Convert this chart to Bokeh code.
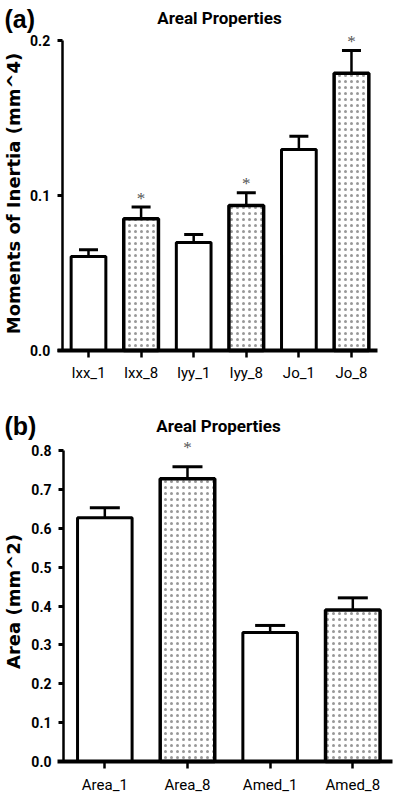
import math
from bokeh.plotting import figure
from bokeh.layouts import column
from bokeh.models import (ColumnDataSource, Whisker, TeeHead, Label, FixedTicker,
                          PrintfTickFormatter, Range1d)
from bokeh.core.properties import value
from bokeh.embed import file_html
from bokeh.resources import INLINE

# ---------------- data ----------------
cats_a = ["Ixx_1", "Ixx_8", "Iyy_1", "Iyy_8", "Jo_1", "Jo_8"]
means_a = [0.0606, 0.0850, 0.0697, 0.0935, 0.1297, 0.1788]
upper_a = [0.0650, 0.0925, 0.0748, 0.1017, 0.1383, 0.1935]
sig_a = [False, True, False, True, False, True]
yticks_a = [0.0, 0.1, 0.2]

cats_b = ["Area_1", "Area_8", "Amed_1", "Amed_8"]
means_b = [0.627, 0.7275, 0.332, 0.390]
upper_b = [0.653, 0.758, 0.350, 0.421]
sig_b = [False, True, False, False]
yticks_b = [0.0, 0.1, 0.2, 0.3, 0.4, 0.5, 0.6, 0.7, 0.8]

TICKFONT = "Roboto"
WIDE = "DejaVu Sans"


def make_panel(cats, means, upper, sig, yticks, tag, ylabel, height, xr, yr,
               xbounds, cap, star_off, tag_pos, title_pos, ylab_pos):
    n = len(cats)
    xs = list(range(n))
    p = figure(width=400, height=height, x_range=Range1d(*xr), y_range=Range1d(*yr),
               output_backend="svg", toolbar_location=None,
               min_border=0, min_border_top=0, min_border_bottom=0,
               min_border_left=0, min_border_right=0)
    p.outline_line_color = None
    p.xgrid.visible = False
    p.ygrid.visible = False
    p.background_fill_color = "white"
    p.border_fill_color = "white"

    plain = [i for i, s in enumerate(cats) if s.endswith("_1")]
    dotted = [i for i, s in enumerate(cats) if s.endswith("_8")]
    src_plain = ColumnDataSource(dict(x=[xs[i] for i in plain], top=[means[i] for i in plain]))
    src_dot = ColumnDataSource(dict(x=[xs[i] for i in dotted], top=[means[i] for i in dotted]))
    p.vbar(x="x", top="top", width=0.66, source=src_plain, fill_color="white",
           line_color="black", line_width=3)
    p.vbar(x="x", top="top", width=0.66, source=src_dot, fill_color="white",
           hatch_pattern="dot", hatch_color="#444444", hatch_scale=6, hatch_weight=1,
           hatch_alpha=0.55, line_color="black", line_width=3.5)

    esrc = ColumnDataSource(dict(x=xs, top=means, upper=upper))
    w = Whisker(base="x", lower="top", upper="upper", source=esrc, dimension="height",
                line_color="black", line_width=2.5,
                upper_head=TeeHead(size=cap, line_width=3, line_color="black"),
                lower_head=None)
    p.add_layout(w)

    ssrc = ColumnDataSource(dict(x=[x for x, s in zip(xs, sig) if s],
                                 y=[u for u, s in zip(upper, sig) if s]))
    p.text(x="x", y="y", text=value("*"), source=ssrc, text_align="center",
           text_baseline="middle", y_offset=star_off, text_font=value("Liberation Serif"),
           text_font_size="17px", text_color="#555555")

    # y axis
    p.yaxis.fixed_location = -0.5
    p.yaxis.bounds = (0, yticks[-1])
    p.yaxis.ticker = FixedTicker(ticks=yticks)
    p.yaxis.formatter = PrintfTickFormatter(format="%.1f")
    p.yaxis.axis_line_width = 2.5
    p.yaxis.axis_line_color = "black"
    p.yaxis.major_tick_line_width = 3
    p.yaxis.major_tick_line_color = "black"
    p.yaxis.major_tick_out = 5
    p.yaxis.major_tick_in = 0
    p.yaxis.minor_tick_line_color = None
    p.yaxis.major_label_standoff = 7
    p.yaxis.major_label_text_font = TICKFONT
    p.yaxis.major_label_text_font_style = "bold"
    p.yaxis.major_label_text_font_size = "14px"
    p.yaxis.major_label_text_color = "black"

    # x axis
    p.xaxis.fixed_location = 0
    p.xaxis.bounds = xbounds
    p.xaxis.ticker = FixedTicker(ticks=xs)
    p.xaxis.major_label_overrides = {i: c for i, c in enumerate(cats)}
    p.xaxis.axis_line_width = 4
    p.xaxis.axis_line_color = "black"
    p.xaxis.major_tick_line_width = 2.5
    p.xaxis.major_tick_line_color = "black"
    p.xaxis.major_tick_out = 7
    p.xaxis.major_tick_in = 0
    p.xaxis.minor_tick_line_color = None
    p.xaxis.major_label_standoff = 7
    p.xaxis.major_label_text_font = TICKFONT
    p.xaxis.major_label_text_font_size = "15px"
    p.xaxis.major_label_text_color = "black"

    p.add_layout(Label(x=tag_pos[0], y=tag_pos[1], x_units="screen", y_units="screen",
                       text=tag, text_font="Liberation Sans", text_font_style="bold",
                       text_font_size="25px", text_align="left", text_baseline="middle",
                       text_color="black"))
    p.add_layout(Label(x=title_pos[0], y=title_pos[1], x_units="screen", y_units="screen",
                       text="Areal Properties", text_font=TICKFONT, text_font_style="bold",
                       text_font_size="17px", text_align="center", text_baseline="middle",
                       text_color="black"))
    p.add_layout(Label(x=ylab_pos[0], y=ylab_pos[1], x_units="screen", y_units="screen",
                       text=ylabel, angle=math.pi / 2, text_font=WIDE,
                       text_font_style="bold", text_font_size="18px",
                       text_align="center", text_baseline="middle", text_color="black"))
    return p


p1 = make_panel(cats_a, means_a, upper_a, sig_a, yticks_a, "(a)",
                "Moments of Inertia (mm^4)", 400,
                (-1.673, 5.932), (-0.03226, 0.2258), (-0.58, 5.5), 19, -9,
                (4, 382), (219, 383), (13, 207))
p2 = make_panel(cats_b, means_b, upper_b, sig_b, yticks_b, "(b)", "Area (mm^2)", 399,
                (-1.262, 3.577), (-0.0977, 0.9286), (-0.57, 3.48), 30, -19,
                (4, 374), (218, 374), (13, 198))

layout = column(p1, p2, spacing=0)
open("out.html", "w").write(file_html(layout, INLINE))
